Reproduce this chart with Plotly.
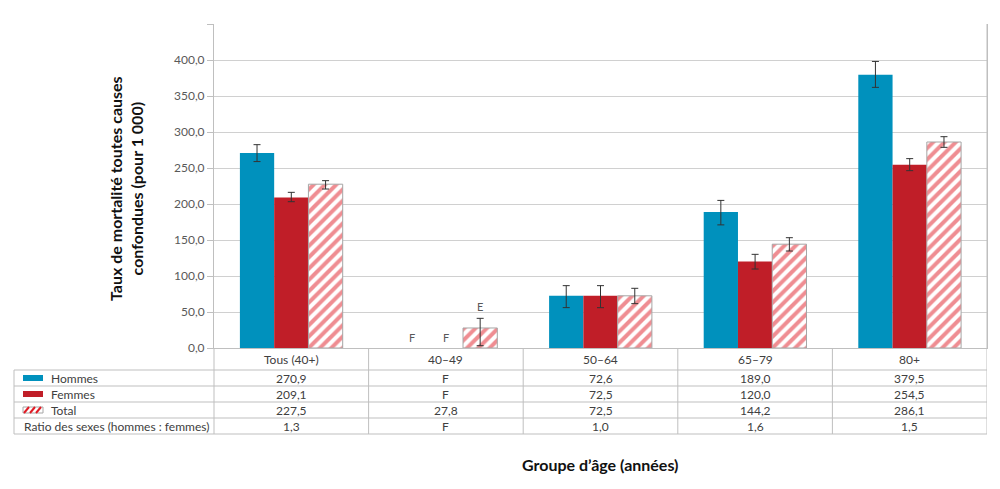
import plotly.graph_objects as go

# ---------------- data ----------------
categories = ["Tous (40+)", "40–49", "50–64", "65–79", "80+"]

hommes = [270.9, None, 72.6, 189.0, 379.5]
hommes_err_plus = [11.5, 0, 14.0, 16.0, 18.5]
hommes_err_minus = [12.0, 0, 16.5, 18.0, 17.5]

femmes = [209.1, None, 72.5, 120.0, 254.5]
femmes_err_plus = [7.1, 0, 14.1, 10.1, 8.5]
femmes_err_minus = [5.9, 0, 16.5, 10.3, 8.2]

total = [227.5, 27.8, 72.5, 144.2, 286.1]
total_err_plus = [4.9, 13.4, 10.4, 9.0, 7.4]
total_err_minus = [6.7, 24.6, 10.9, 9.5, 7.4]

hommes_txt = ["270,9", "F", "72,6", "189,0", "379,5"]
femmes_txt = ["209,1", "F", "72,5", "120,0", "254,5"]
total_txt = ["227,5", "27,8", "72,5", "144,2", "286,1"]
ratio_txt = ["1,3", "F", "1,0", "1,6", "1,5"]

row_labels = ["Hommes", "Femmes", "Total", "Ratio des sexes (hommes : femmes)"]

y_ticks = [0, 50, 100, 150, 200, 250, 300, 350, 400, 450]
y_ticktext = ["0,0", "50,0", "100,0", "150,0", "200,0", "250,0", "300,0", "350,0", "400,0", ""]

# ---------------- styling ----------------
BLUE = "#0091BD"
RED = "#C01E28"
STRIPE = "#E01B25"
GRID = "#D0D0D0"
LINE = "#BFBFBF"
TXT = "#404040"
FONT = "Lato"

# page body has an 8px margin: work in window pixels, convert to figure pixels
OFF = 8
W, H = 1000 - OFF, 489 - OFF
PLOT_L, PLOT_R, PLOT_T, PLOT_B = 214, 987, 24, 348   # window pixels
ML, MR, MT, MB = PLOT_L - OFF, W - (PLOT_R - OFF), PLOT_T - OFF, H - (PLOT_B - OFF)
PW, PH = PLOT_R - PLOT_L, PLOT_B - PLOT_T


def py(y_px):
    return (PLOT_B - y_px) / PH


def px(x_px):
    return (x_px - PLOT_L) / PW


err_style = dict(type="data", symmetric=False, color="#333333", thickness=1, width=3.5)

fig = go.Figure()
fig.add_trace(go.Bar(
    name="Hommes", x=categories, y=hommes, marker=dict(color=BLUE, line=dict(width=0)),
    error_y=dict(array=hommes_err_plus, arrayminus=hommes_err_minus, **err_style),
))
fig.add_trace(go.Bar(
    name="Femmes", x=categories, y=femmes, marker=dict(color=RED, line=dict(width=0)),
    error_y=dict(array=femmes_err_plus, arrayminus=femmes_err_minus, **err_style),
))
fig.add_trace(go.Bar(
    name="Total", x=categories, y=total,
    marker=dict(color="white", line=dict(color="#A6A6A6", width=1),
                pattern=dict(shape="/", fgcolor=STRIPE, bgcolor="white", size=8, solidity=0.5)),
    error_y=dict(array=total_err_plus, arrayminus=total_err_minus, **err_style),
))

bargap = 0.335
bw = (1 - bargap) / 3

shapes = []
annotations = []

# table horizontal lines
for ypx in [370, 386, 402, 418, 434]:
    shapes.append(dict(type="line", xref="paper", yref="paper", x0=px(14), x1=1, y0=py(ypx), y1=py(ypx),
                       line=dict(color=LINE, width=1)))
# left border of table
shapes.append(dict(type="line", xref="paper", yref="paper", x0=px(14), x1=px(14), y0=py(370), y1=py(434),
                   line=dict(color=LINE, width=1)))
# left column divider (axis continuation)
shapes.append(dict(type="line", xref="paper", yref="paper", x0=0, x1=0, y0=py(434), y1=0,
                   line=dict(color=LINE, width=1)))
# category dividers
for i in range(len(categories)):
    xv = i + 0.5
    y1 = 1 if i == len(categories) - 1 else 0
    shapes.append(dict(type="line", xref="x", yref="paper", x0=xv, x1=xv, y0=py(434), y1=y1,
                       line=dict(color=LINE, width=1)))

# table text
rows = [(359, categories), (378, hommes_txt), (394, femmes_txt), (410, total_txt), (426, ratio_txt)]
for ypx, vals in rows:
    for i, v in enumerate(vals):
        annotations.append(dict(x=i, y=py(ypx), xref="x", yref="paper", text=v, showarrow=False,
                                font=dict(family=FONT, size=12, color=TXT), xanchor="center", yanchor="middle"))

# row labels + swatches
label_y = [378, 394, 410, 426]
for lbl, ypx in zip(row_labels, label_y):
    x_lbl = 22 if lbl.startswith("Ratio") else 49
    annotations.append(dict(x=px(x_lbl), y=py(ypx), xref="paper", yref="paper", text=lbl, showarrow=False,
                            font=dict(family=FONT, size=12, color=TXT), xanchor="left", yanchor="middle"))

shapes.append(dict(type="rect", xref="paper", yref="paper", x0=px(23), x1=px(43), y0=py(381), y1=py(375),
                   fillcolor=BLUE, line=dict(width=0)))
shapes.append(dict(type="rect", xref="paper", yref="paper", x0=px(23), x1=px(43), y0=py(397), y1=py(391),
                   fillcolor=RED, line=dict(width=0)))
shapes.append(dict(type="rect", xref="paper", yref="paper", x0=px(23), x1=px(43), y0=py(413), y1=py(407),
                   fillcolor="white", line=dict(color="#A6A6A6", width=1)))
for xs in [24, 30, 36]:
    shapes.append(dict(type="line", xref="paper", yref="paper", x0=px(xs), x1=px(xs + 5), y0=py(413), y1=py(407),
                       line=dict(color=STRIPE, width=2)))

# suppressed / estimate flags for 40–49
annotations.append(dict(x=1 - bw, y=14, xref="x", yref="y", text="F", showarrow=False,
                        font=dict(family=FONT, size=11, color="#595959")))
annotations.append(dict(x=1, y=14, xref="x", yref="y", text="F", showarrow=False,
                        font=dict(family=FONT, size=11, color="#595959")))
annotations.append(dict(x=1 + bw, y=total[1] + total_err_plus[1] + 16, xref="x", yref="y", text="E",
                        showarrow=False, font=dict(family=FONT, size=11, color="#595959")))

# axis titles
annotations.append(dict(x=px(126), y=py(189), xref="paper", yref="paper",
                        text="<b>Taux de mortalité toutes causes<br>confondues (pour 1 000)</b>",
                        showarrow=False, textangle=-90, font=dict(family=FONT, size=16, color="#111111"),
                        xanchor="center", yanchor="middle"))
annotations.append(dict(x=px(600), y=py(464), xref="paper", yref="paper",
                        text="<b>Groupe d’âge (années)</b>", showarrow=False,
                        font=dict(family=FONT, size=16, color="#111111"), xanchor="center", yanchor="middle"))

fig.update_layout(
    width=W, height=H,
    margin=dict(l=ML, r=MR, t=MT, b=MB),
    paper_bgcolor="white", plot_bgcolor="white",
    barmode="group", bargap=bargap, bargroupgap=0,
    showlegend=False,
    font=dict(family=FONT, size=12, color=TXT),
    shapes=shapes, annotations=annotations,
    xaxis=dict(type="category", range=[-0.5, 4.5], showticklabels=False, ticks="",
               showgrid=False, showline=True, linecolor=LINE, linewidth=1, zeroline=False),
    yaxis=dict(range=[0, 450], tickvals=y_ticks, ticktext=y_ticktext, showgrid=True, gridcolor=GRID,
               gridwidth=1, showline=True, linecolor=LINE, linewidth=1, mirror=True,
               ticks="outside", ticklen=6, tickcolor=LINE, zeroline=False,
               tickfont=dict(family=FONT, size=12, color="#595959")),
)

fig.write_html("out.html")
